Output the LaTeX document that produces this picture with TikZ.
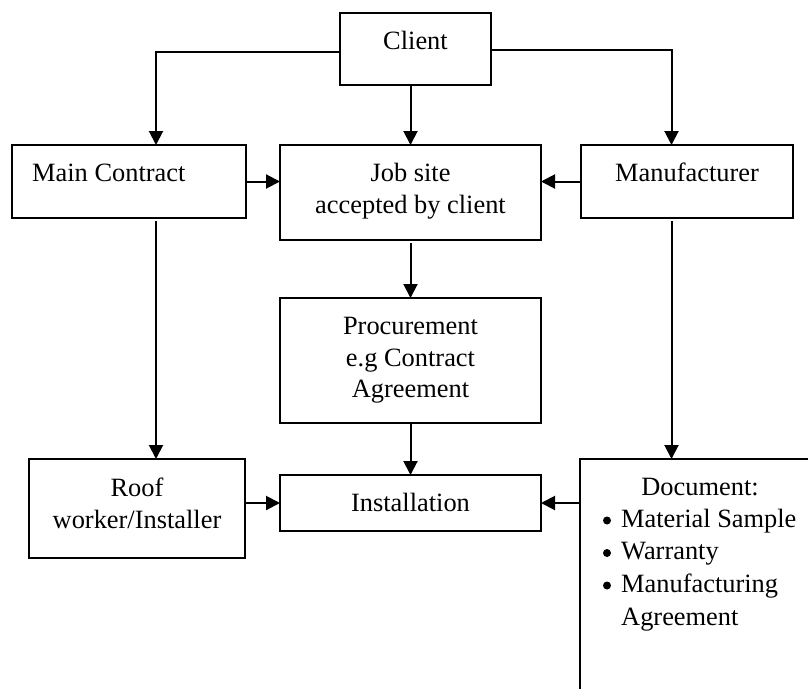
\documentclass[tikz,border=0pt]{standalone}
\usepackage{fontspec}
\setmainfont{Liberation Serif}
\usetikzlibrary{arrows.meta,calc}
\begin{document}
\begin{tikzpicture}[x=1pt,y=-1pt,
  box/.style={draw,line width=1.7pt,inner sep=0pt,outer sep=0pt,rectangle},
  txt/.style={font=\fontsize{26.4}{31.5}\selectfont,inner sep=0pt,anchor=base},
  arr/.style={line width=2pt,-{Triangle[length=14pt,width=14pt]}},
  ln/.style={line width=2pt},
  dot/.style={circle,fill,inner sep=0pt,minimum size=8pt}]
\useasboundingbox (0,0) rectangle (808,688);
\clip (0,0) rectangle (808,688);

% boxes
\node[box,minimum width=151pt,minimum height=72pt] (client) at (415.5,49) {};
\node[box,minimum width=234pt,minimum height=73pt] (main) at (129,181.5) {};
\node[box,minimum width=261pt,minimum height=95pt] (job) at (410.5,192.5) {};
\node[box,minimum width=212pt,minimum height=73pt] (manu) at (687,181.5) {};
\node[box,minimum width=261pt,minimum height=125pt] (proc) at (410.5,360.5) {};
\node[box,minimum width=216pt,minimum height=99pt] (roof) at (137,508.5) {};
\node[box,minimum width=261pt,minimum height=56pt] (inst) at (410.5,503) {};
\node[box,minimum width=260pt,minimum height=260pt,anchor=north west] (doc) at (580,459) {};

% texts
\node[txt] (tclient) at (415.5,49) {Client};
\node[txt,anchor=base west] (tmain) at (32,181) {Main Contract};
\node[txt] (tmanu) at (687,181.5) {Manufacturer};
\node[txt] (tjob1) at (410.5,181.5) {Job site};
\node[txt] (tjob2) at (410.5,213) {accepted by client};
\node[txt] (tproc1) at (410.5,334) {Procurement};
\node[txt] (tproc2) at (410.5,366) {e.g Contract};
\node[txt] (tproc3) at (410.5,397) {Agreement};
\node[txt] (troof1) at (137,496) {Roof};
\node[txt] (troof2) at (137,528) {worker/Installer};
\node[txt] (tinst) at (410.5,511) {Installation};
\node[txt] (tdoc) at (700,495) {Document:};
\node[txt,anchor=base west] (td1) at (621,527) {Material Sample};
\node[txt,anchor=base west] (td2) at (621,559) {Warranty};
\node[txt,anchor=base west] (td3) at (621,592) {Manufacturing};
\node[txt,anchor=base west] (td4) at (621,625) {Agreement};
\node[dot] (b1) at (607,520.5) {};
\node[dot] (b2) at (607,553) {};
\node[dot] (b3) at (607,585.5) {};

% connectors
\draw[arr] ([yshift=-3pt]client.west) -| ([xshift=27pt]main.north);
\draw[arr] ([yshift=-1pt]client.east) -| ([xshift=-15.5pt]manu.north);
\draw[arr] (client.south -| job.north) -- (job.north);
\draw[arr] (main.east) -- (job.west |- main.east);
\draw[arr] (manu.west) -- (job.east |- manu.west);
\draw[arr] ([yshift=-3pt]job.south) -- (proc.north);
\draw[arr] (proc.south) -- (inst.north);
\draw[arr] ([xshift=27pt,yshift=-3pt]main.south) -- ([xshift=27pt]main.south |- roof.north);
\draw[arr] ([xshift=-15.5pt,yshift=-3pt]manu.south) -- ([xshift=-15.5pt]manu.south |- doc.north);
\draw[arr] (roof.east |- inst.west) -- (inst.west);
\draw[arr] (doc.west |- inst.east) -- (inst.east);
\end{tikzpicture}
\end{document}
